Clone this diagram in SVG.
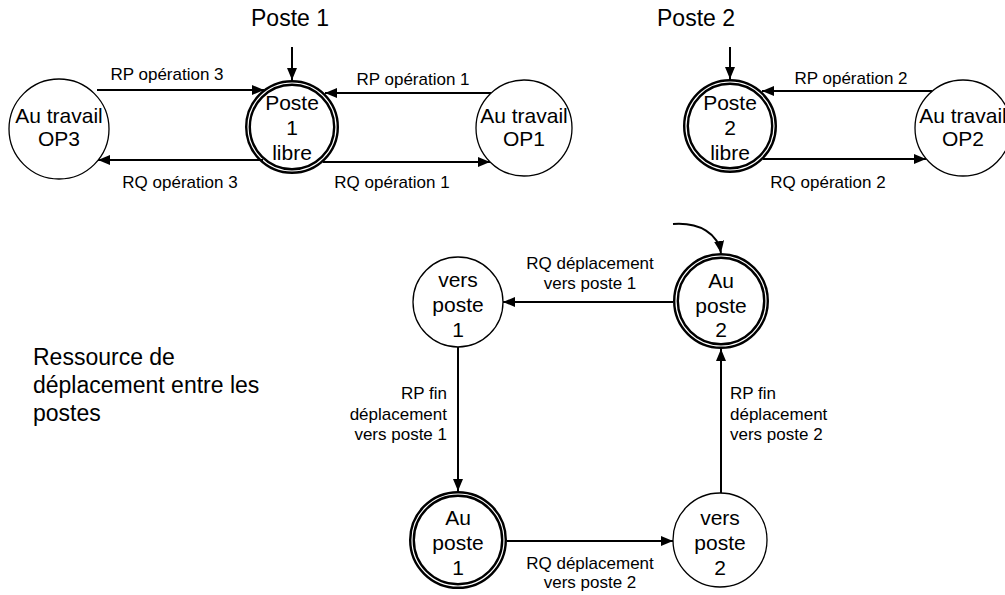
<svg xmlns="http://www.w3.org/2000/svg" width="1005" height="595" viewBox="0 0 1005 595">
<style>
text{font-family:"Liberation Sans",Arial,sans-serif;fill:#000}
.n{font-size:21px;text-anchor:middle}
.h{font-size:23px}
.e{font-size:17px}
.m{text-anchor:middle}
.st{fill:#fff;stroke:#000;stroke-width:1.3}
.dbl{fill:#fff;stroke:#000;stroke-width:6}
.gap{fill:none;stroke:#fff;stroke-width:1.2}
.c{fill:none;stroke:#000;stroke-width:2;marker-end:url(#ah)}
</style>
<defs>
<marker id="ah" markerUnits="userSpaceOnUse" markerWidth="12" markerHeight="10" refX="12" refY="5" orient="auto">
<path d="M0,0 L12,5 L0,10 z" fill="#000"/>
</marker>
</defs>

<text class="h m" x="290" y="26">Poste 1</text>
<text class="h m" x="696" y="26">Poste 2</text>
<text class="h" x="33" y="365">Ressource de</text>
<text class="h" x="33" y="393">déplacement entre les</text>
<text class="h" x="33" y="421">postes</text>

<g id="op3">
<circle class="st" cx="59" cy="129" r="50"/>
<text class="n" x="59" y="123">Au travail</text>
<text class="n" x="59" y="146">OP3</text>
</g>
<g id="poste1libre">
<circle class="dbl" cx="292" cy="127" r="44"/>
<circle class="gap" cx="292" cy="127" r="44"/>
<text class="n" x="292" y="110">Poste</text>
<text class="n" x="292" y="135">1</text>
<text class="n" x="292" y="160">libre</text>
</g>
<g id="op1">
<circle class="st" cx="524" cy="128" r="48"/>
<text class="n" x="524" y="123">Au travail</text>
<text class="n" x="524" y="146">OP1</text>
</g>
<g id="poste2libre">
<circle class="dbl" cx="730" cy="126" r="44"/>
<circle class="gap" cx="730" cy="126" r="44"/>
<text class="n" x="730" y="110">Poste</text>
<text class="n" x="730" y="135">2</text>
<text class="n" x="730" y="160">libre</text>
</g>
<g id="op2">
<circle class="st" cx="963" cy="128" r="48"/>
<text class="n" x="963" y="123">Au travail</text>
<text class="n" x="963" y="146">OP2</text>
</g>
<g id="verspost1">
<circle class="st" cx="458" cy="302" r="45"/>
<text class="n" x="458" y="287">vers</text>
<text class="n" x="458" y="312">poste</text>
<text class="n" x="458" y="337">1</text>
</g>
<g id="aupost2">
<circle class="dbl" cx="721" cy="301" r="45"/>
<circle class="gap" cx="721" cy="301" r="45"/>
<text class="n" x="721" y="288">Au</text>
<text class="n" x="721" y="313">poste</text>
<text class="n" x="721" y="337">2</text>
</g>
<g id="aupost1">
<circle class="dbl" cx="458" cy="540" r="46"/>
<circle class="gap" cx="458" cy="540" r="46"/>
<text class="n" x="458" y="525">Au</text>
<text class="n" x="458" y="550">poste</text>
<text class="n" x="458" y="575">1</text>
</g>
<g id="verspost2">
<circle class="st" cx="720" cy="540" r="47"/>
<text class="n" x="720" y="525">vers</text>
<text class="n" x="720" y="550">poste</text>
<text class="n" x="720" y="575">2</text>
</g>

<g id="connectors">
<path class="c" d="M292,47 V80"/>
<path class="c" d="M97,90 H264"/>
<path class="c" d="M263,160 H98"/>
<path class="c" d="M491,93 H325"/>
<path class="c" d="M323,162 H490"/>
<path class="c" d="M730,47 V79"/>
<path class="c" d="M932,91 H762"/>
<path class="c" d="M763,159 H926"/>
<path class="c" d="M673,224 C700,222 718,234 721,253"/>
<path class="c" d="M673,302 H503"/>
<path class="c" d="M458,347 V491"/>
<path class="c" d="M507,541 H673"/>
<path class="c" d="M721,493 V349"/>
</g>

<g id="labels">
<text class="e m" x="167" y="80">RP opération 3</text>
<text class="e m" x="180" y="188">RQ opération 3</text>
<text class="e m" x="413" y="85">RP opération 1</text>
<text class="e m" x="392" y="188">RQ opération 1</text>
<text class="e m" x="851" y="84">RP opération 2</text>
<text class="e m" x="828" y="188">RQ opération 2</text>
<text class="e m" x="590" y="269">RQ déplacement</text>
<text class="e m" x="590" y="289">vers poste 1</text>
<text class="e m" x="590" y="569">RQ déplacement</text>
<text class="e m" x="590" y="588">vers poste 2</text>
<text class="e" text-anchor="end" x="447" y="399">RP fin</text>
<text class="e" text-anchor="end" x="447" y="420">déplacement</text>
<text class="e" text-anchor="end" x="447" y="440">vers poste 1</text>
<text class="e" x="730" y="399">RP fin</text>
<text class="e" x="730" y="420">déplacement</text>
<text class="e" x="730" y="440">vers poste 2</text>
</g>
</svg>
